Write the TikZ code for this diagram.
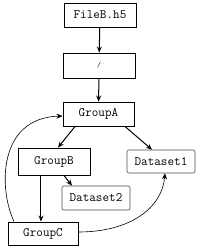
\documentclass[tikz,border=0pt]{standalone}
\usetikzlibrary{arrows.meta}
\begin{document}
\begin{tikzpicture}[x=1pt,y=-1pt,
  box/.style={draw=black,line width=0.9pt,inner sep=0pt,font=\fontsize{12.8}{15}\ttfamily},
  dset/.style={draw=black!70,line width=0.6pt,rounded corners=2pt,inner sep=0pt,font=\fontsize{12.8}{15}\ttfamily},
  arr/.style={-{Stealth[length=6pt,width=5pt]},line width=1pt},
  carr/.style={-{Stealth[length=6pt,width=5pt]},line width=0.6pt}]
\useasboundingbox (0,0) rectangle (200,250);
\node[box,minimum width=72pt,minimum height=24pt] (fileb) at (100,15) {FileB.h5};
\node[box,minimum width=72pt,minimum height=25pt] (root) at (99,65.5) {\scalebox{0.6}{/}};
\node[box,minimum width=71pt,minimum height=24pt] (ga) at (98.5,114) {GroupA};
\node[box,minimum width=72pt,minimum height=27pt] (gb) at (54,161.5) {GroupB};
\node[dset,minimum width=68pt,minimum height=23pt] (d1) at (161,161.5) {Dataset1};
\node[dset,minimum width=68pt,minimum height=24pt] (d2) at (96,198) {Dataset2};
\node[box,minimum width=70pt,minimum height=23pt] (gc) at (43,233.5) {GroupC};
\draw[arr] (fileb) -- (root);
\draw[arr] (root) -- (ga);
\draw[arr] ([xshift=-23.5pt]ga.south) -- ([xshift=4pt]gb.north);
\draw[arr] ([xshift=26.5pt]ga.south) -- ([xshift=-9pt]d1.north);
\draw[arr] ([xshift=10pt]gb.south) -- ([xshift=-24pt]d2.north);
\draw[arr] ([xshift=-13pt]gb.south) -- ([xshift=-2pt]gc.north);
\draw[carr] ([xshift=-29pt]gc.north) .. controls (-1,190) and (-3,118) .. ([yshift=-2pt]ga.west);
\draw[carr] ([yshift=1.5pt]gc.east) .. controls (130,232) and (162,208) .. ([xshift=4pt]d1.south);
\end{tikzpicture}
\end{document}
